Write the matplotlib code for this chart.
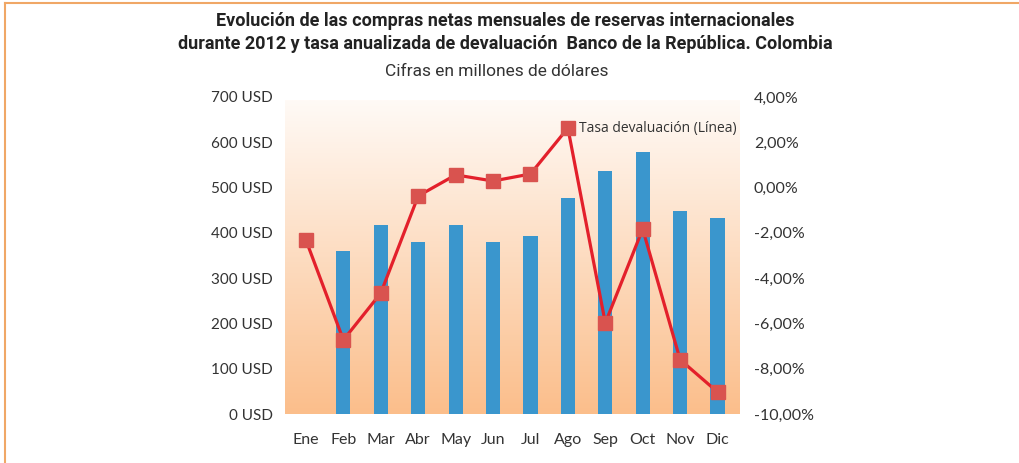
import numpy as np
import matplotlib.pyplot as plt
from matplotlib.colors import LinearSegmentedColormap
from matplotlib.lines import Line2D

# Datos
meses = ["Ene", "Feb", "Mar", "Abr", "May", "Jun", "Jul", "Ago", "Sep", "Oct", "Nov", "Dic"]
compras = [0, 363, 422, 383, 422, 383, 398, 482, 541, 582, 453, 436]   # millones USD
devaluacion = [-2.32, -6.73, -4.66, -0.37, 0.56, 0.29, 0.60, 2.63, -5.98, -1.83, -7.60, -9.03]  # %

usd_ticks = [0, 100, 200, 300, 400, 500, 600, 700]
pct_ticks = [-10, -8, -6, -4, -2, 0, 2, 4]

fig = plt.figure(figsize=(10.19, 4.63), dpi=100)
ax = fig.add_axes([0.2797, 0.1058, 0.4465, 0.6847])

# fondo degradado
cmap = LinearSegmentedColormap.from_list("bg", ["#FBBE8B", "#FFFAF6"])
grad = np.linspace(0, 1, 256).reshape(-1, 1)
ax.imshow(grad, aspect="auto", cmap=cmap, origin="lower",
          extent=[-0.56, 11.6, 0, 693], zorder=0)

x = np.arange(len(meses))
ax.bar(x, compras, width=0.38, color="#3A96CD", zorder=2, bottom=-4)
ax.set_xlim(-0.56, 11.6)
ax.set_ylim(0, 700)
ax.set_yticks(usd_ticks)
ax.set_yticklabels([f"{v} USD" for v in usd_ticks])
ax.set_xticks(x)
ax.set_xticklabels(meses)
ax.tick_params(length=0, labelsize=11.5, colors="#333333")
ax.tick_params(axis="y", pad=9, labelsize=11)
ax.tick_params(axis="x", pad=14)
for s in ax.spines.values():
    s.set_visible(False)
for lab in ax.get_xticklabels() + ax.get_yticklabels():
    lab.set_fontfamily("Lato")

ax2 = ax.twinx()
ax2.plot(x, devaluacion, color="#E3202B", lw=2.3, zorder=3,
         marker="s", ms=10, mfc="#D9534F", mec="#D9534F")
ax2.set_ylim(-10, 4)
ax2.set_yticks(pct_ticks)
ax2.set_yticklabels([f"{v:.2f}%".replace(".", ",") for v in pct_ticks])
ax2.tick_params(length=0, labelsize=11.5, colors="#333333", pad=10)
for s in ax2.spines.values():
    s.set_visible(False)
for lab in ax2.get_yticklabels():
    lab.set_fontfamily("Lato")
ax2.text(7.3, 2.63, "Tasa devaluación (Línea)", fontsize=10, family="Open Sans",
         color="#333333", va="center", ha="left")

# titulos
fig.text(0.496, 0.975, "Evolución de las compras netas mensuales de reservas internacionales\n"
         "durante 2012 y tasa anualizada de devaluación  Banco de la República. Colombia",
         ha="center", va="top", fontsize=13, fontweight="bold", family="Roboto",
         color="#222222", linespacing=1.4)
fig.text(0.487, 0.862, "Cifras en millones de dólares", ha="center", va="top",
         fontsize=12.5, family="Roboto", color="#333333")

# marco
fig.add_artist(Line2D([0.005, 1.0], [0.993, 0.993], color="#F0A766", lw=1.5))
fig.add_artist(Line2D([0.005, 0.005], [0.0, 0.993], color="#F0A766", lw=1.5))

fig.savefig("out.png", dpi=100)
